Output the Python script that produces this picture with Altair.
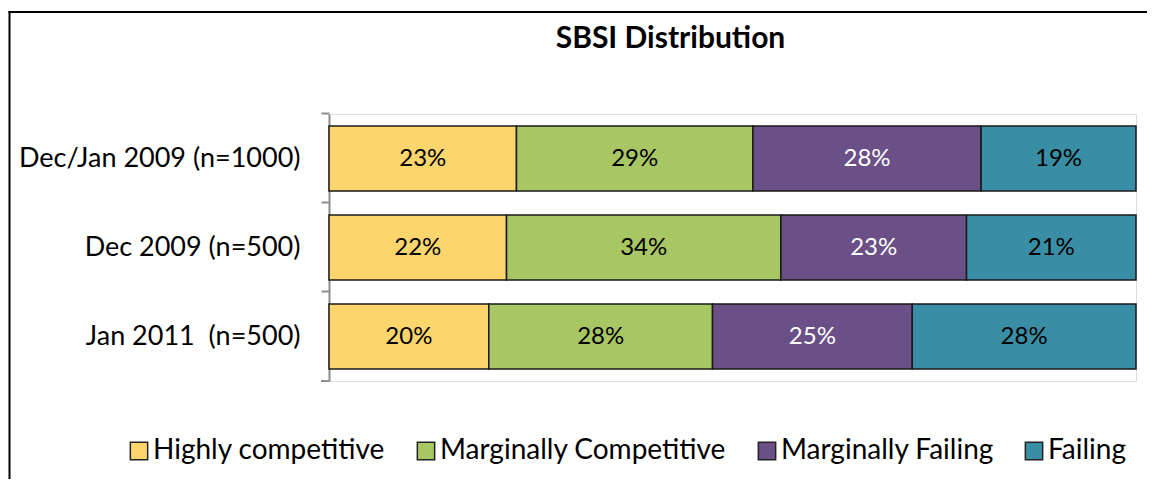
import altair as alt
import pandas as pd

periods = ["Dec/Jan 2009 (n=1000)", "Dec 2009 (n=500)", "Jan 2011 \u00a0(n=500)"]
categories = ["Highly competitive", "Marginally Competitive", "Marginally Failing", "Failing"]
colors = ["#FCD56C", "#A8C664", "#6A5086", "#398EA6"]
label_colors = ["black", "black", "white", "black"]
highly = [23, 22, 20]
marg_comp = [29, 34, 28]
marg_fail = [28, 23, 25]
failing = [19, 21, 28]

series = [highly, marg_comp, marg_fail, failing]
rows = []
for ci, (cat, vals) in enumerate(zip(categories, series)):
    for pi, p in enumerate(periods):
        rows.append({"period": p, "category": cat, "order": ci, "value": vals[pi],
                     "label": f"{vals[pi]}%", "tcolor": label_colors[ci]})
df = pd.DataFrame(rows)

FONT = "Lato"

base = alt.Chart(df).transform_stack(
    stack="value", groupby=["period"], as_=["v0", "v1"], offset="normalize",
    sort=[alt.SortField("order", order="ascending")]
)

yenc = alt.Y("period:N", sort=periods, title=None,
             scale=alt.Scale(paddingInner=0.27, paddingOuter=0.135),
             axis=alt.Axis(bandPosition=-0.185, labelOffset=0, tickSize=8, tickColor="#8c8c8c",
                           tickWidth=2, domainColor="#8c8c8c", domainWidth=2,
                           labelPadding=21, labelFontSize=27, labelFont=FONT,
                           labelColor="black", labelLimit=400))

xscale = alt.Scale(domain=[0, 1], nice=False, zero=True)

bars = base.mark_bar(stroke="#1a1a1a", strokeWidth=1.5).encode(
    x=alt.X("v0:Q", scale=xscale, axis=None),
    x2="v1:Q",
    y=yenc,
    color=alt.Color("category:N", sort=categories,
                    scale=alt.Scale(domain=categories, range=colors),
                    legend=alt.Legend(title=None, orient="none", direction="horizontal",
                                      legendX=-204, legendY=323, symbolType="square",
                                      symbolSize=300, symbolStrokeColor="#222",
                                      symbolStrokeWidth=1.5, labelFontSize=28,
                                      labelFont=FONT, labelColor="black",
                                      columnPadding=26, labelOffset=0, labelLimit=400)),
)

texts = base.transform_calculate(mid="(datum.v0 + datum.v1) / 2").mark_text(
    fontSize=24, font=FONT, baseline="middle", align="center"
).encode(
    x=alt.X("mid:Q", scale=xscale, axis=None),
    y=alt.Y("period:N", sort=periods),
    text="label:N",
    color=alt.Color("tcolor:N", scale=None, legend=None),
)

bottom_tick = alt.Chart(pd.DataFrame({"a": [0]})).mark_rule(color="#8c8c8c", strokeWidth=2).encode(
    x=alt.value(-8), x2=alt.value(0), y=alt.value(267)
)

one = pd.DataFrame({"a": [0]})
border_top = alt.Chart(one).mark_rule(color="black", strokeWidth=2).encode(
    x=alt.value(-320.5), x2=alt.value(1000), y=alt.value(-102)
)
border_left = alt.Chart(one).mark_rule(color="black", strokeWidth=2).encode(
    x=alt.value(-319.5), y=alt.value(-103), y2=alt.value(420)
)

chart = alt.layer(border_top, border_left, bars, texts, bottom_tick).properties(
    width=807, height=267,
    autosize=alt.AutoSizeParams(type="none"),
    padding={"left": 321, "top": 106, "right": 11, "bottom": 98},
    title=alt.TitleParams("SBSI Distribution", anchor="middle", frame="group", dx=-62, offset=-44,
                          fontSize=30, font=FONT, fontWeight="bold", color="black"),
).resolve_scale(color="independent").configure_view(stroke="transparent").configure(background="white")

chart.save("out.html", embed_options={"renderer": "svg", "actions": False})
